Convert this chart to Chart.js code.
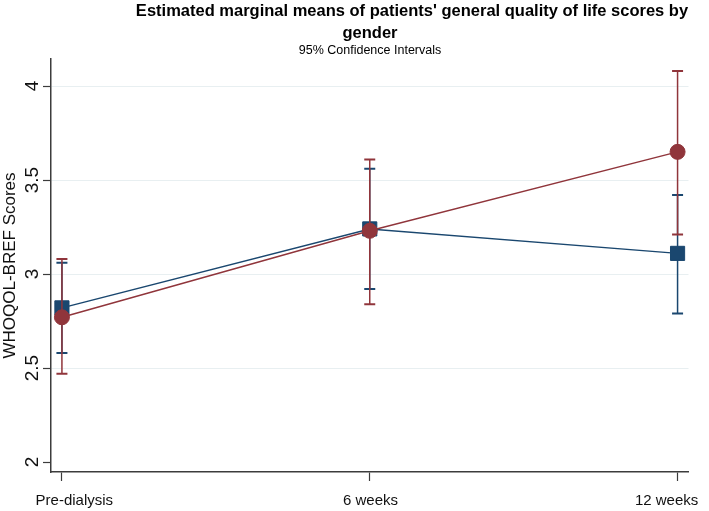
<!DOCTYPE html>
<html>
<head>
<meta charset="utf-8">
<script src="https://cdn.jsdelivr.net/npm/chart.js@4.4.1/dist/chart.umd.min.js"></script>
<style>
  html, body { margin: 0; padding: 0; background: #fff; }
</style>
</head>
<body>
<canvas id="qolChart" width="709" height="511"></canvas>
<script>
var timePoints = ['Pre-dialysis', '6 weeks', '12 weeks'];
var timeIndex = [0, 1, 2];
var yTicks = [2, 2.5, 3, 3.5, 4];

// blue squares
var blueMean = [2.82, 3.24, 3.11];
var blueLow = [2.58, 2.92, 2.79];
var blueHigh = [3.06, 3.56, 3.42];

// red circles
var redMean = [2.77, 3.23, 3.65];
var redLow = [2.47, 2.84, 3.21];
var redHigh = [3.08, 3.61, 4.08];

var titleLine1 = "Estimated marginal means of patients' general quality of life scores by";
var titleLine2 = 'gender';
var subTitle = '95% Confidence Intervals';
var yTitle = 'WHOQOL-BREF Scores';

var blue = '#1a476f';
var red = '#90353b';
var axisColor = '#3c3c3c';
var gridColor = '#e8eff1';
var family = '"Liberation Sans", Arial, sans-serif';

// stata style title: first line is not centered like the rest
const titlePlugin = {
    id: 'stataTitle',
    afterDraw(chart) {
        const ctx = chart.ctx;
        ctx.save();
        ctx.fillStyle = '#000';
        ctx.textAlign = 'center';
        ctx.textBaseline = 'alphabetic';
        ctx.font = 'bold 16.5px ' + family;
        ctx.fillText(titleLine1, 412, 16);
        ctx.fillText(titleLine2, 370, 38);
        ctx.font = '12.5px ' + family;
        ctx.fillText(subTitle, 370, 54);
        ctx.restore();
    }
};

function meanDataset(values, color, style, radius, order) {
    return {
        data: timeIndex.map((x, i) => ({x: x, y: values[i]})),
        borderColor: color,
        borderWidth: 1.5,
        pointStyle: style,
        pointRadius: radius,
        pointBackgroundColor: color,
        pointBorderColor: color,
        pointBorderWidth: 1,
        tension: 0,
        order: order
    };
}

function ciDatasets(low, high, color, order) {
    return timeIndex.map((x, i) => ({
        data: [{x: x, y: low[i]}, {x: x, y: high[i]}],
        borderColor: color,
        borderWidth: 1.5,
        pointStyle: 'line',
        pointRadius: 5.5,
        pointBorderColor: color,
        pointBorderWidth: 2,
        order: order
    }));
}

var datasets = [].concat(
    [meanDataset(redMean, red, 'circle', 7.5, 0)],
    ciDatasets(redLow, redHigh, red, 1),
    [meanDataset(blueMean, blue, 'rect', 10, 2)],
    ciDatasets(blueLow, blueHigh, blue, 3)
);

new Chart(document.getElementById('qolChart').getContext('2d'), {
    type: 'line',
    data: { datasets: datasets },
    options: {
        responsive: false,
        animation: false,
        devicePixelRatio: 1,
        events: [],
        layout: { padding: { top: 59, right: 17, left: 0, bottom: 0 } },
        plugins: {
            legend: { display: false },
            tooltip: { enabled: false }
        },
        scales: {
            x: {
                type: 'linear',
                position: 'bottom',
                min: -0.0355,
                max: 2.0355,
                afterBuildTicks: s => { s.ticks = timeIndex.map(v => ({value: v})); },
                afterFit: s => { s.height = 10; },
                grid: { drawOnChartArea: false, drawTicks: true, tickLength: 9, tickColor: axisColor, tickWidth: 1.2 },
                border: { display: true, color: axisColor, width: 1.5 },
                ticks: { display: false }
            },
            xLabels: {
                type: 'linear',
                position: 'bottom',
                min: -0.0789,
                max: 2.0739,
                afterBuildTicks: s => { s.ticks = timeIndex.map(v => ({value: v})); },
                afterFit: s => { s.height = 29; },
                grid: { display: false, drawTicks: false },
                border: { display: false },
                ticks: {
                    autoSkip: false,
                    maxRotation: 0,
                    padding: 10,
                    color: '#111',
                    font: { size: 15, family: family },
                    callback: v => timePoints[v]
                }
            },
            y: {
                type: 'linear',
                position: 'left',
                min: 1.947,
                max: 4.144,
                afterBuildTicks: s => { s.ticks = yTicks.map(v => ({value: v})); },
                afterFit: s => { s.width = 51; },
                grid: {
                    color: c => (c.tick && c.tick.value === 2) ? 'rgba(0,0,0,0)' : gridColor,
                    lineWidth: 1,
                    tickColor: axisColor,
                    tickLength: 8,
                    tickWidth: 1.2
                },
                border: { color: axisColor, width: 1.5 },
                ticks: {
                    minRotation: 90,
                    maxRotation: 90,
                    crossAlign: 'center',
                    padding: -3,
                    color: '#111',
                    font: { size: 19, family: family },
                    callback: v => String(v)
                },
                title: {
                    display: true,
                    text: yTitle,
                    color: '#111',
                    font: { size: 17, family: family },
                    padding: { top: 0, bottom: 0 }
                }
            }
        }
    },
    plugins: [titlePlugin]
});
</script>
</body>
</html>
